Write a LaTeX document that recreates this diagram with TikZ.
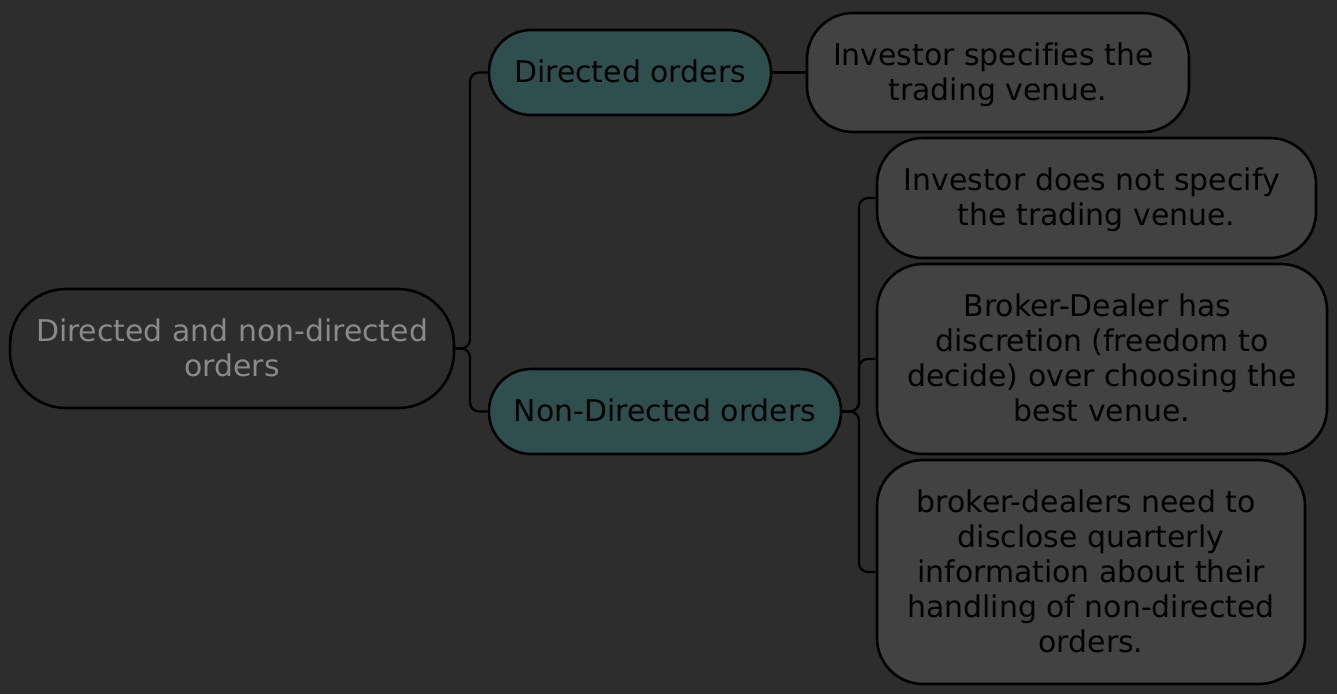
\documentclass[tikz,border=0pt]{standalone}
\usepackage{fontspec}
\setmainfont[Ligatures=CommonOff]{DejaVu Sans}
\definecolor{bgc}{HTML}{2D2D2D}
\definecolor{topicc}{HTML}{2F4F4F}
\definecolor{leafc}{HTML}{424242}
\definecolor{roott}{HTML}{8A8A8A}
\newcommand\fst{\rule{0pt}{27pt}}
\newcommand\lst{\rule[-7pt]{0pt}{7pt}}
\newcommand\one{\rule[-7pt]{0pt}{34pt}}
\newcommand\trsp{\hspace*{\fontdimen2\font}}
\tikzset{
  base/.style={draw=black, line width=2.6pt, align=center, inner sep=0pt,
    font=\fontsize{29.9}{35}\selectfont},
  topicbox/.style={base, fill=topicc, text=black, rounded corners=42pt, minimum height=85pt},
  leafbox/.style={base, fill=leafc, text=black, rounded corners=46pt},
  rootbox/.style={base, fill=bgc, text=roott, rounded corners=56pt},
  conn/.style={draw=black, line width=2.2pt, rounded corners=9pt}
}
\begin{document}
\begin{tikzpicture}[x=1pt,y=-1pt]
\fill[bgc] (0,0) rectangle (1337,694);
\useasboundingbox (0,0) rectangle (1337,694);
\node[rootbox, minimum width=444pt, minimum height=119pt] (root) at (232,348.5) {\fst Directed and non-directed\\orders\lst};
\node[topicbox, minimum width=282pt] (dir) at (630,72.5) {\one Directed orders};
\node[topicbox, minimum width=352pt] (non) at (665,411.5) {\one Non-Directed orders};
\node[leafbox, minimum width=382pt, minimum height=119pt] (l1) at (998,72.5) {\fst Investor specifies the\trsp\\trading venue.\lst};
\node[leafbox, minimum width=439pt, minimum height=120pt] (l2) at (1096.5,198) {\fst Investor does not specify\trsp\\the trading venue.\lst};
\node[leafbox, minimum width=450pt, minimum height=190pt] (l3) at (1102,359) {\fst Broker-Dealer has\trsp\\discretion (freedom to\trsp\\decide) over choosing the\trsp\\best venue.\lst};
\node[leafbox, minimum width=428pt, minimum height=224pt] (l4) at (1091,572) {\fst broker-dealers need to\trsp\\disclose quarterly\trsp\\information about their\trsp\\handling of non-directed\trsp\\orders.\lst};
\coordinate (j1) at (470,348.5);
\coordinate (j2) at (859,411.5);
\draw[conn] (root.east) -- (j1) |- (dir.west);
\draw[conn] (root.east) -- (j1) |- (non.west);
\draw[conn] (dir.east) -- (l1.west);
\draw[conn] (non.east) -- (j2) |- (l2.west);
\draw[conn] (non.east) -- (j2) |- (l3.west);
\draw[conn] (non.east) -- (j2) |- (l4.west);
\end{tikzpicture}
\end{document}
